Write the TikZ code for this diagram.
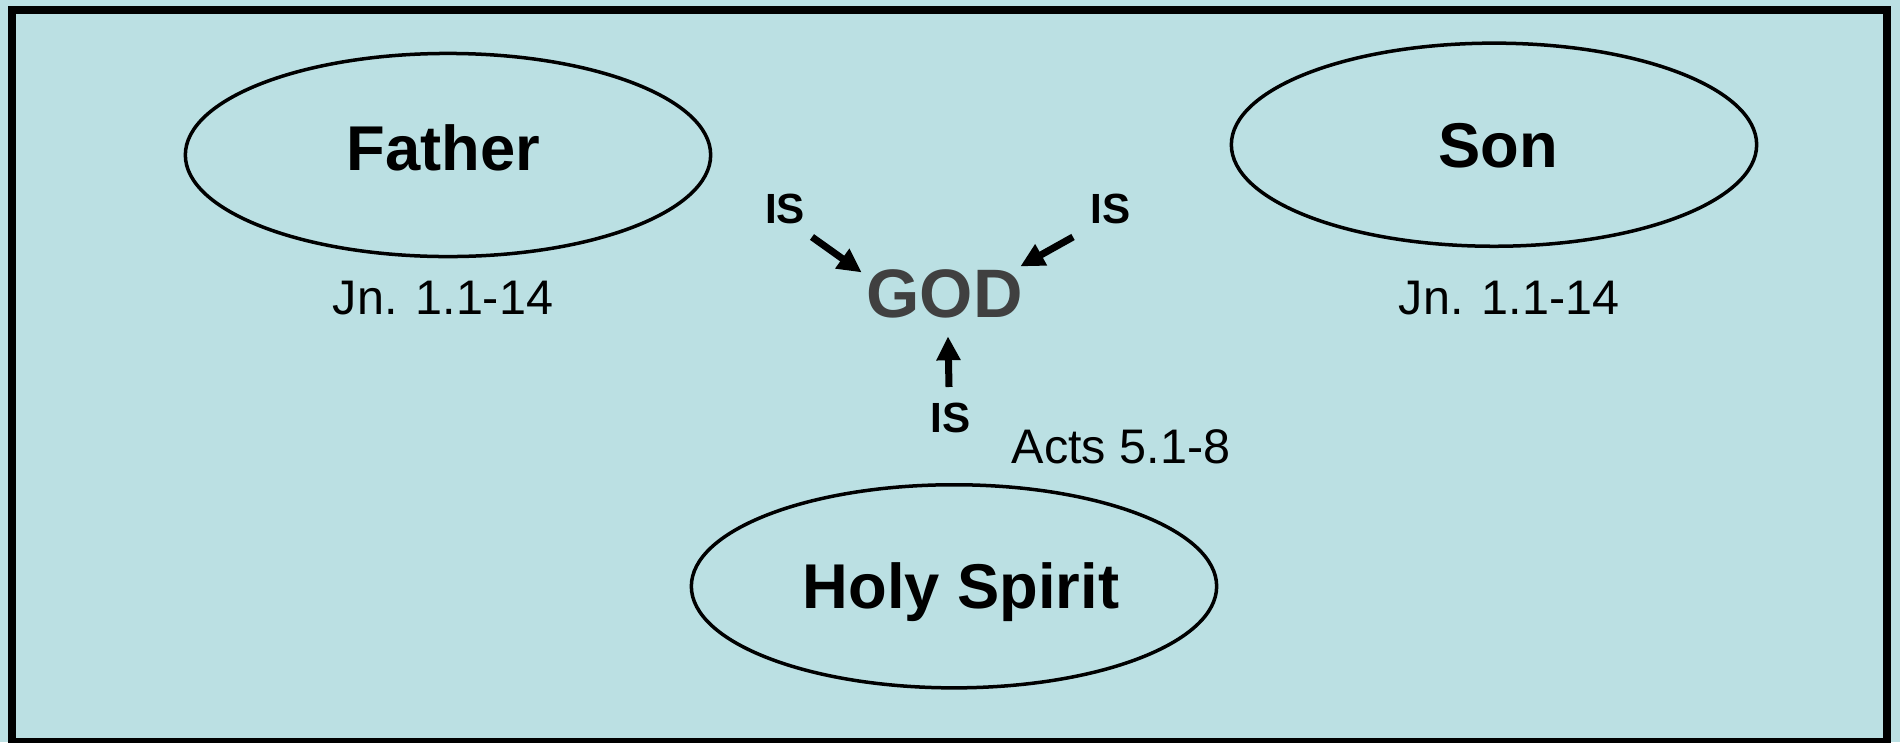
\documentclass[tikz,border=0pt]{standalone}
\usepackage{fontspec}
\setmainfont{Liberation Sans}
\usetikzlibrary{shapes.geometric,arrows.meta}
\definecolor{bgblue}{RGB}{187,224,227}
\definecolor{godgrey}{RGB}{64,64,64}

\begin{document}
\begin{tikzpicture}
  [x=0.01cm,y=-0.01cm,
   oval/.style={ellipse,draw,line width=0.035cm,minimum width=5.25cm,minimum height=2.03cm},
   person/.style={font=\bfseries\fontsize{18}{22}\selectfont,anchor=base,inner sep=0pt},
   verse/.style={font=\fontsize{13.8}{16}\selectfont,anchor=base,inner sep=0pt},
   islbl/.style={font=\bfseries\fontsize{12}{14}\selectfont,anchor=base,inner sep=0pt},
   isarrow/.style={line width=0.07cm,-{Triangle[length=6.8pt,width=6.5pt]}}]
  \useasboundingbox (0,0) rectangle (1900,742);
  \fill[bgblue] (0,0) rectangle (1900,742);
  \draw[line width=0.08cm] (12,10) rectangle (1887,742);

  % the three persons
  \node[oval] (father) at (448,155) {};
  \node[oval] (son) at (1494,144.7) {};
  \node[oval] (spirit) at (954,586.3) {};
  \node[person] (nfather) at (443.5,170) {Father};
  \node[person] (nson) at (1498.5,167) {Son};
  \node[person] (nspirit) at (961,608) {Holy Spirit};

  % verses
  \node[verse] (vfather) at (443,314) {Jn. 1.1-14};
  \node[verse] (vson) at (1509,314) {Jn. 1.1-14};
  \node[verse] (vspirit) at (1121,463) {Acts 5.1-8};

  \node[font=\bfseries\fontsize{19.5}{23}\selectfont,text=godgrey,anchor=base,inner sep=0pt]
    (god) at (944.5,317) {GOD};

  \node[islbl] (isfather) at (785,223) {IS};
  \node[islbl] (isson) at (1110.5,223) {IS};
  \node[islbl] (isspirit) at (950.5,432) {IS};

  \coordinate (tfather) at (812,237);
  \coordinate (tson) at (1073,237);
  \coordinate (tspirit) at (949,387);

  \draw[isarrow] (tfather) -- ([shift={(-4,4)}]god.north west);
  \draw[isarrow] (tson) -- ([shift={(-3,-2)}]god.north east);
  \draw[isarrow] (tspirit) -- ([shift={(3.5,18)}]god.south);

\end{tikzpicture}
\end{document}
